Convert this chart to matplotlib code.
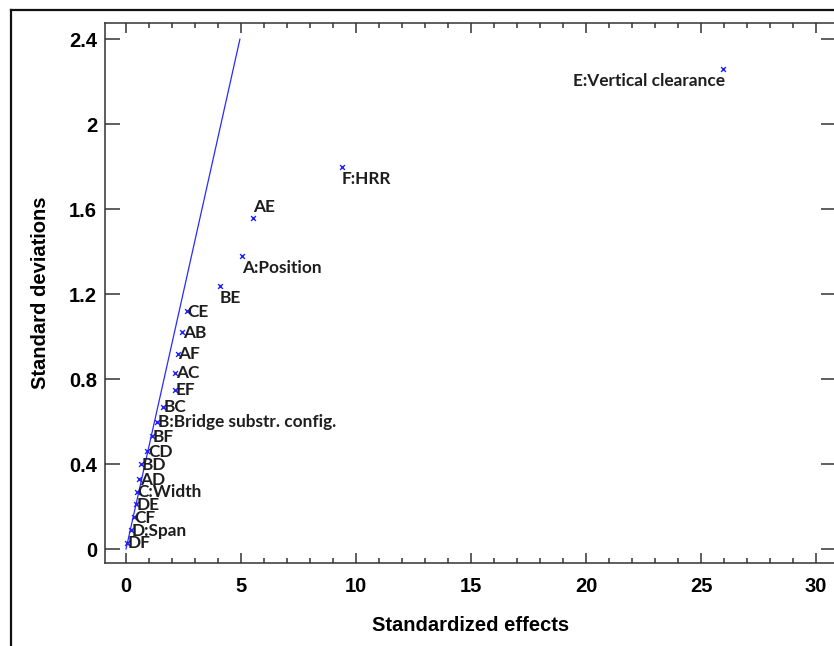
import matplotlib
matplotlib.use("Agg")
import matplotlib.pyplot as plt
from matplotlib.lines import Line2D
from matplotlib.ticker import MultipleLocator

# Half-normal plot of standardized effects
effects = ["DF", "D:Span", "CF", "DE", "C:Width", "AD", "BD", "CD", "BF",
           "B:Bridge substr. config.", "BC", "EF", "AC", "AF", "AB", "CE",
           "BE", "A:Position", "AE", "F:HRR", "E:Vertical clearance"]
std_effects = [0.03, 0.22, 0.34, 0.44, 0.48, 0.58, 0.63, 0.92, 1.11,
               1.36, 1.59, 2.12, 2.15, 2.25, 2.44, 2.65,
               4.08, 5.03, 5.51, 9.39, 25.96]
std_devs = [0.03, 0.09, 0.15, 0.21, 0.27, 0.33, 0.40, 0.46, 0.53,
            0.60, 0.67, 0.75, 0.83, 0.92, 1.02, 1.12,
            1.24, 1.38, 1.56, 1.80, 2.26]

# reference line through the origin
line_x = [0, 4.95]
line_y = [0, 2.4]

# label placement (offset in points, alignment)
label_pos = {
    "E:Vertical clearance": ((1, -3), "right", "top"),
    "F:HRR": ((0, -3), "left", "top"),
    "AE": ((0, 2), "left", "bottom"),
    "A:Position": ((0, -3), "left", "top"),
    "BE": ((0, -3), "left", "top"),
}

fig = plt.figure(figsize=(8.34, 6.46), dpi=100)
ax = fig.add_axes([0.1263, 0.128, 0.876, 0.837])

ax.plot(line_x, line_y, color="#2a2aff", lw=0.9)
ax.scatter(std_effects, std_devs, marker="x", s=12, color="#2020ff", lw=1.0, zorder=3)

for name, x, y in zip(effects, std_effects, std_devs):
    off, ha, va = label_pos.get(name, ((0.5, -0.5), "left", "center"))
    ax.annotate(name, (x, y), xytext=off, textcoords="offset points",
                ha=ha, va=va, fontsize=12.4, fontweight="bold",
                family="Lato", color="#1e1e1e")

ax.set_xlim(-0.9, 30.86)
ax.set_ylim(-0.0673, 2.478)
ax.xaxis.set_major_locator(MultipleLocator(5))
ax.xaxis.set_minor_locator(MultipleLocator(1))
ax.set_yticks([0, 0.4, 0.8, 1.2, 1.6, 2.0, 2.4])
ax.set_yticklabels(["0", "0.4", "0.8", "1.2", "1.6", "2", "2.4"])

ax.tick_params(axis="both", which="both", direction="in", top=True, right=True,
               color="#333333", width=1.1)
ax.tick_params(axis="x", which="major", length=7.5, pad=10)
ax.tick_params(axis="x", which="minor", length=3.6)
ax.tick_params(axis="y", which="major", length=10.5, pad=6)
for lbl in ax.get_xticklabels() + ax.get_yticklabels():
    lbl.set_fontweight("bold")
    lbl.set_fontsize(14.5)
    lbl.set_family("Liberation Sans")
for sp in ax.spines.values():
    sp.set_color("#333333")
    sp.set_linewidth(1.1)

ax.set_xlabel("Standardized effects", fontsize=14.5, fontweight="bold",
              family="Liberation Sans", labelpad=14)
ax.set_ylabel("Standard deviations", fontsize=14.5, fontweight="bold",
              family="Liberation Sans", labelpad=14)

# outer frame around the figure
fig.add_artist(Line2D([11 / 834, 11 / 834], [0, 1 - 10 / 646], color="#111111", lw=1.6))
fig.add_artist(Line2D([11 / 834, 1], [1 - 10 / 646, 1 - 10 / 646], color="#111111", lw=1.6))

fig.savefig("out.png", dpi=100)
